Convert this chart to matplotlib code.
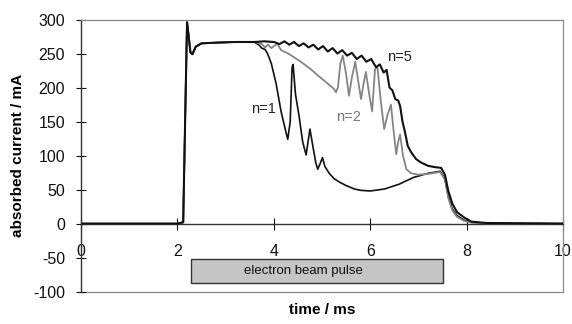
import matplotlib
matplotlib.use("Agg")
import matplotlib.pyplot as plt
from matplotlib.patches import Rectangle

plt.rcParams['font.family'] = ['Liberation Sans', 'DejaVu Sans']

# shared start of all traces (time in ms, current in mA)
rise_t = [0.0, 1.0, 2.0, 2.12, 2.16, 2.20, 2.23, 2.27, 2.31, 2.38, 2.50, 2.8, 3.2, 3.6]
rise_y = [0, 0, 0, 2, 150, 296, 278, 252, 249, 260, 265, 266, 267, 267]

# n = 1
n1_t = [3.7, 3.75, 3.82, 3.87, 3.95, 4.05, 4.15, 4.25, 4.29, 4.34, 4.38, 4.40, 4.45,
        4.52, 4.60, 4.67, 4.72, 4.75, 4.80, 4.87, 4.91, 4.96, 5.01, 5.06, 5.15, 5.25,
        5.39, 5.5, 5.67, 5.8, 6.0, 6.3, 6.6, 6.9, 7.2, 7.45, 7.55, 7.62, 7.70, 7.80,
        7.95, 8.1, 8.4, 10.0]
n1_y = [262, 258, 256, 250, 235, 205, 165, 135, 124, 150, 230, 234, 190,
        160, 120, 101, 125, 139, 118, 90, 80, 88, 97, 84, 74, 66,
        60, 56, 51, 49, 48, 51, 58, 68, 74, 77, 66, 40, 22, 12,
        5, 2, 0.5, 0]

# n = 2
n2_t = [3.75, 3.82, 3.88, 3.95, 4.02, 4.08, 4.15, 4.3, 4.56, 4.75, 4.91, 5.05, 5.25,
        5.29, 5.33, 5.38, 5.43, 5.50, 5.56, 5.62, 5.69, 5.75, 5.81, 5.86, 5.91, 5.98,
        6.04, 6.10, 6.15, 6.22, 6.29, 6.36, 6.43, 6.48, 6.54, 6.58, 6.62, 6.68, 6.75,
        6.85, 7.0, 7.2, 7.45, 7.55, 7.62, 7.70, 7.80, 7.95, 8.1, 8.4, 10.0]
n2_y = [264, 259, 263, 258, 262, 264, 255, 250, 238, 228, 218, 210, 198,
        193, 200, 235, 247, 220, 188, 215, 238, 210, 183, 205, 223, 190,
        165, 227, 230, 180, 139, 160, 175, 140, 102, 120, 131, 100, 80,
        74, 72, 73, 76, 65, 38, 20, 10, 4, 1.5, 0.5, 0]

# n = 5
n5_t = [3.8, 4.0, 4.12, 4.22, 4.32, 4.42, 4.52, 4.62, 4.72, 4.82, 4.92, 5.02, 5.12,
        5.22, 5.32, 5.42, 5.52, 5.62, 5.72, 5.82, 5.92, 6.02, 6.12, 6.20, 6.28, 6.34,
        6.40, 6.46, 6.52, 6.58, 6.62, 6.67, 6.72, 6.78, 6.85, 6.95, 7.05, 7.2, 7.35,
        7.47, 7.55, 7.62, 7.70, 7.80, 7.95, 8.1, 8.4, 10.0]
n5_y = [268, 267, 264, 268, 263, 267, 261, 265, 259, 263, 256, 261, 253,
        258, 250, 255, 247, 251, 242, 247, 238, 242, 230, 234, 222, 226,
        200, 196, 183, 181, 173, 150, 135, 114, 105, 95, 90, 85, 83,
        82, 72, 48, 30, 17, 9, 3, 1, 0]

x_ticks = [0, 2, 4, 6, 8, 10]
y_ticks = [-100, -50, 0, 50, 100, 150, 200, 250, 300]

pulse_start, pulse_end = 2.28, 7.52
pulse_low, pulse_high = -87, -52

fig = plt.figure(figsize=(5.72, 3.24), dpi=100)
ax = fig.add_axes([0.1416, 0.0997, 0.8427, 0.840])

black = '#111111'
gray = '#858585'
ax.plot(rise_t + n1_t, rise_y + n1_y, color=black, lw=1.2, zorder=3)
ax.plot(rise_t + n2_t, rise_y + n2_y, color=gray, lw=1.3, zorder=4)
ax.plot(rise_t + n5_t, rise_y + n5_y, color=black, lw=1.5, zorder=5)

ax.text(3.78, 168, 'n=1', fontsize=10.5, color='#222222', ha='center', va='center')
ax.text(5.54, 157, 'n=2', fontsize=10.5, color='#777777', ha='center', va='center')
ax.text(6.6, 245, 'n=5', fontsize=10.5, color='#222222', ha='center', va='center')

ax.add_patch(Rectangle((pulse_start, pulse_low), pulse_end - pulse_start,
                       pulse_high - pulse_low, facecolor='#c6c6c6',
                       edgecolor='#333333', lw=1.0, zorder=2))
ax.text(4.61, (pulse_low + pulse_high) / 2, 'electron beam pulse', fontsize=9.5,
        ha='center', va='center', color='#111111', zorder=3)

ax.set_xlim(0, 10)
ax.set_ylim(-100, 300)
ax.set_xticks(x_ticks)
ax.set_yticks(y_ticks)
ax.set_xticklabels([str(v) for v in x_ticks])
ax.set_yticklabels([str(v) for v in y_ticks])

ax.spines['bottom'].set_position(('data', 0))
ax.spines['bottom'].set_color('#333333')
ax.spines['bottom'].set_linewidth(1.0)
ax.spines['left'].set_color('#333333')
ax.spines['left'].set_linewidth(1.0)
for s in ['top', 'right']:
    ax.spines[s].set_color('#8a8a8a')
    ax.spines[s].set_linewidth(0.9)
ax.axhline(-100, color='#8a8a8a', lw=0.9, clip_on=False, zorder=1)

ax.tick_params(axis='x', direction='inout', length=8, width=0.8, pad=11,
               labelsize=11.5, colors='#111111')
ax.tick_params(axis='y', direction='inout', length=7, width=0.8, pad=8,
               labelsize=11.5, colors='#111111')

ax.set_ylabel('absorbed current / mA', fontsize=11, fontweight='bold', labelpad=6)
fig.text(0.5629, 0.022, 'time / ms', fontsize=11, fontweight='bold',
         ha='center', va='bottom')

fig.savefig('out.png', dpi=100)
